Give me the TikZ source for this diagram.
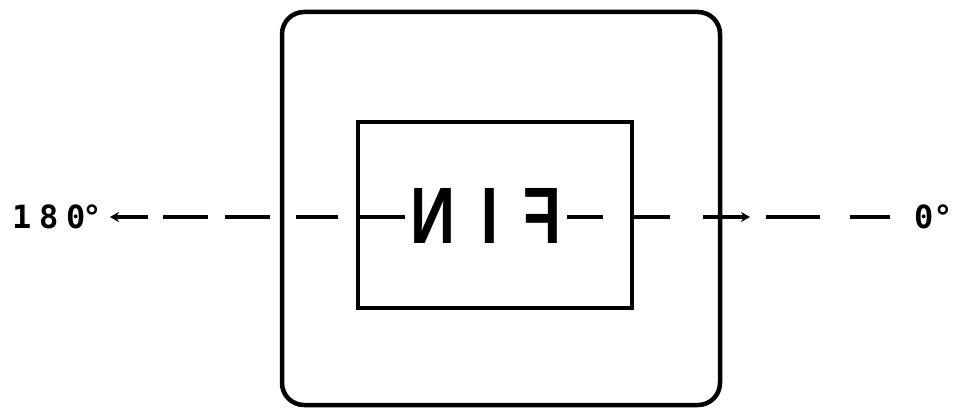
\documentclass[tikz,border=0pt]{standalone}
\usepackage{fontspec}
\newfontfamily\labfont{DejaVu Sans Mono}[LetterSpace=24]
\newfontfamily\labfontb{DejaVu Sans Mono}
\newfontfamily\finfont{Liberation Sans}[LetterSpace=40]
\usetikzlibrary{arrows.meta}
\tikzset{
  boxline/.style={draw=black, line width=4.5pt},
  dashseg/.style={draw=black, line width=4pt},
  lab/.style={inner sep=0pt, font=\labfont\bfseries\fontsize{32}{32}\selectfont},
  labb/.style={inner sep=0pt, font=\labfontb\bfseries\fontsize{32}{32}\selectfont},
}
\begin{document}
\begin{tikzpicture}[x=1pt,y=-1pt]
\useasboundingbox (0,0) rectangle (955,409);
\fill[white] (0,0) rectangle (955,409);
% outer rounded box
\draw[boxline, rounded corners=22pt] (282,12) rectangle (720,405);
% inner box
\node[boxline, line width=4pt, minimum width=274pt, minimum height=185pt, inner sep=0pt] (inner) at (495,215) {};
% mirrored text
\node[inner sep=0pt, xscale=-0.78, font=\finfont\bfseries\fontsize{80}{80}\selectfont] (fin) at (486,216) {FIN};
% labels
\node[lab, anchor=west] (l180) at (12,217) {180{\kern-3pt}°};
\node[labb, anchor=west] (l0) at (914,217) {0°};
% dashed axis segments
\draw[dashseg, {Stealth[length=9pt,width=10pt]}-] (110,217) -- (148,217);
\foreach \a/\b in {163/208, 225/270, 296/338, 360/405, 567/603, 632/670, 766/820, 850/890}
  \draw[dashseg] (\a,217) -- (\b,217);
\draw[dashseg, -{Stealth[length=9pt,width=10pt]}] (703,217) -- (750,217);
\end{tikzpicture}
\end{document}
